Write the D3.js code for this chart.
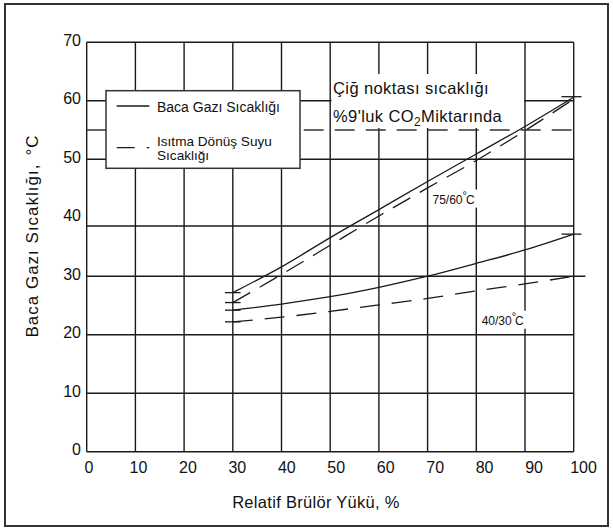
<!DOCTYPE html>
<html><head><meta charset="utf-8">
<script src="https://cdn.jsdelivr.net/npm/d3@7"></script>
<style>
html,body{margin:0;padding:0;background:#fff;}
svg{display:block;font-family:"Liberation Sans",Arial,Helvetica,sans-serif;}
</style></head>
<body><svg id="c" width="613" height="530"></svg>
<script>
// ---- data ----
const xTicks = [0,10,20,30,40,50,60,70,80,90,100];
const yTicks = [0,10,20,30,40,50,60,70];
const gridY = [0,10,20,30,38.6,50,60,70];      // horizontal rules as drawn in the source
const load = [30,40,50,60,70,80,90,100];       // Relatif Brülör Yükü, %
const flue7560   = [27.2,31.6,36.6,41.4,46.2,50.9,55.6,60.6];
const return7560 = [25.5,30.3,35.3,40.3,45.1,49.8,54.9,60.3];
const flue4030   = [24.2,25.25,26.5,28.1,30.0,32.2,34.5,37.2];
const return4030 = [22.2,23.0,24.0,25.1,26.2,27.5,28.7,30.0];
const dewPoint = 55;
const startTicks = [27.2,25.5,24.2,22.2];
const endTicks = [60.7,37.2];

const svg = d3.select("#c");
const ink = "#1a1a1a";

// outer frame
svg.append("rect").attr("x",5).attr("y",4).attr("width",603).attr("height",522)
  .attr("fill","#fff").attr("stroke","#333").attr("stroke-width",2);

const x = d3.scaleLinear().domain([0,100]).range([86.7,573.7]);
const y = d3.scaleLinear().domain([0,70]).range([451.7,42.3]);
const xLab = d3.scaleLinear().domain([0,100]).range([88.5,583]);
const yLab = d3.scaleLinear().domain([0,70]).range([449,39.6]);

// grid
const g = svg.append("g");
g.selectAll("line.v").data(xTicks).join("line")
  .attr("x1",d=>x(d)).attr("x2",d=>x(d)).attr("y1",y(0)).attr("y2",y(70))
  .attr("stroke",ink).attr("stroke-width",1.4);
g.selectAll("line.h").data(gridY).join("line")
  .attr("y1",d=>y(d)).attr("y2",d=>y(d)).attr("x1",x(0)).attr("x2",d=>d===30?x(102.4):x(100))
  .attr("stroke",ink).attr("stroke-width",1.4);

// dew point dashed line
svg.append("line").attr("x1",x(0)).attr("x2",x(100)).attr("y1",y(dewPoint)).attr("y2",y(dewPoint))
  .attr("stroke","#333").attr("stroke-width",1.4).attr("stroke-dasharray","20,11");

// annotation box
svg.append("rect").attr("x",331.5).attr("y",74).attr("width",192.5).attr("height",54).attr("fill","#fff");
const ann = svg.append("g").attr("font-size",16.5).attr("fill","#111").attr("letter-spacing",0.4);
ann.append("text").attr("x",333).attr("y",94).text("Çiğ noktası sıcaklığı");
const t2 = ann.append("text").attr("x",333).attr("y",121.5);
t2.append("tspan").text("%9'luk CO");
t2.append("tspan").attr("font-size",12).attr("dy",4).text("2");
t2.append("tspan").attr("dy",-4).text("Miktarında");

// legend
svg.append("rect").attr("x",106).attr("y",90.7).attr("width",194).attr("height",77.6)
  .attr("fill","#fff").attr("stroke","#333").attr("stroke-width",1.5);
svg.append("line").attr("x1",116.7).attr("x2",149.3).attr("y1",106).attr("y2",106)
  .attr("stroke",ink).attr("stroke-width",1.3);
svg.append("line").attr("x1",116.7).attr("x2",149.3).attr("y1",147.7).attr("y2",147.7)
  .attr("stroke",ink).attr("stroke-width",1.3).attr("stroke-dasharray","18,12");
const lg = svg.append("g").attr("font-size",14).attr("fill","#111");
lg.append("text").attr("x",157).attr("y",112).text("Baca Gazı Sıcaklığı");
const lg2 = lg.append("text").attr("x",157).attr("y",145.5).attr("font-size",13.6);
lg2.append("tspan").attr("x",157).text("Isıtma Dönüş Suyu");
lg2.append("tspan").attr("x",157).attr("dy",14).text("Sıcaklığı");

// curves
const line = d3.line().x((d,i)=>x(load[i])).y(d=>y(d)).curve(d3.curveMonotoneX);
const series = [
  {v:flue7560, dash:null},
  {v:return7560, dash:"20,11"},
  {v:flue4030, dash:null},
  {v:return4030, dash:"20,12"}
];
svg.selectAll("path.s").data(series).join("path")
  .attr("d",d=>line(d.v)).attr("fill","none").attr("stroke",ink).attr("stroke-width",1.3)
  .attr("stroke-dasharray",d=>d.dash);

// start / end ticks
svg.selectAll("line.st").data(startTicks).join("line")
  .attr("x1",x(28.4)).attr("x2",x(31.6)).attr("y1",d=>y(d)).attr("y2",d=>y(d))
  .attr("stroke",ink).attr("stroke-width",1.3);
svg.selectAll("line.et").data(endTicks).join("line")
  .attr("x1",x(97.5)).attr("x2",x(101.6)).attr("y1",d=>y(d)).attr("y2",d=>y(d))
  .attr("stroke",ink).attr("stroke-width",1.3);

// curve labels
function tempLabel(xv, yv, a, b){
  svg.append("rect").attr("x",x(xv)-2).attr("y",y(yv)-10).attr("width",48).attr("height",18).attr("fill","#fff");
  const t = svg.append("text").attr("x",x(xv)).attr("y",y(yv)+4).attr("font-size",12).attr("fill","#111");
  t.append("tspan").text(a+"/"+b);
  t.append("tspan").attr("font-size",11).attr("dy",-5).text("°");
  t.append("tspan").attr("dy",5).attr("dx",-1).text("C");
}
tempLabel(71.0, 43.1, 75, 60);
tempLabel(81.1, 22.4, 40, 30);

// tick labels
const ax = svg.append("g").attr("transform","translate(0,467)")
  .call(d3.axisBottom(xLab).tickValues(xTicks).tickSize(0).tickPadding(0));
ax.select(".domain").remove();
ax.selectAll("text").attr("font-size",16).attr("font-family","Liberation Sans, Arial, sans-serif")
  .attr("fill","#111").attr("dy","0.35em");
const ay = svg.append("g").attr("transform","translate(81,0)")
  .call(d3.axisLeft(yLab).tickValues(yTicks).tickSize(0).tickPadding(0));
ay.select(".domain").remove();
ay.selectAll("text").attr("font-size",16).attr("font-family","Liberation Sans, Arial, sans-serif")
  .attr("fill","#111").attr("dy","0.35em");

// axis titles
svg.append("text").attr("x",316).attr("y",508).attr("text-anchor","middle")
  .attr("font-size",16.5).attr("fill","#111").attr("letter-spacing",0.3).text("Relatif Brülör Yükü, %");
const yt = svg.append("text").attr("transform","translate(38,236) rotate(-90)")
  .attr("text-anchor","middle").attr("font-size",17).attr("fill","#111").attr("letter-spacing",1);
yt.append("tspan").text("Baca Gazı Sıcaklığı,");
yt.append("tspan").attr("dx",8).text("°C");
</script></body></html>
